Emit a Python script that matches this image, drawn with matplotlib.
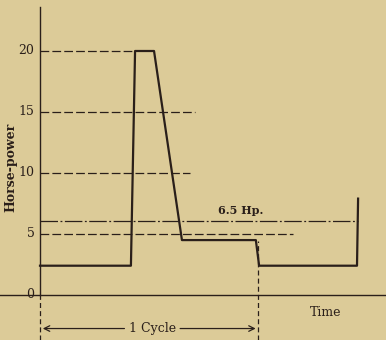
import matplotlib.pyplot as plt
import numpy as np

# load curve over one cycle (time in arbitrary units, one cycle = 10)
t = [0, 4.17, 4.36, 5.23, 6.51, 9.9, 10.05, 14.54, 14.59]
hp = [2.4, 2.4, 20, 20, 4.5, 4.5, 2.4, 2.4, 7.9]

# dashed reference levels and where each one stops
levels = [20, 15, 10, 5]
level_ends = [4.3, 7.1, 6.9, 11.6]
mean_hp = 6.1          # line marked "6.5 Hp."
cycle_end = 10.02
ticks = [0, 5, 10, 15, 20]

bg = '#dccb98'
ink = '#2a1f1a'
plt.rcParams['font.family'] = ['DejaVu Serif']

fig = plt.figure(figsize=(3.86, 3.40), dpi=100, facecolor=bg)
ax = fig.add_axes([0, 0, 1, 1])
ax.set_facecolor(bg)
ax.set_xlim(-1.835, 15.87)
ax.set_ylim(-3.69, 24.18)
ax.axis('off')

# axes drawn by hand like the original figure
ax.plot([0, 0], [0, 23.6], color=ink, lw=1.0)
ax.plot([0, 0], [-3.69, 0], color=ink, lw=0.9, dashes=(4, 2.5))
ax.axhline(0, color=ink, lw=1.0)

for lv, end in zip(levels, level_ends):
    ax.plot([0, end], [lv, lv], color=ink, lw=0.9, dashes=(7, 2.5))
ax.plot([0, 14.59], [mean_hp, mean_hp], color=ink, lw=0.9, dashes=(14, 2, 1.5, 2))

ax.plot(t, hp, color=ink, lw=1.6, solid_joinstyle='round')

ax.plot([cycle_end, cycle_end], [-3.69, 4.4], color=ink, lw=0.9, dashes=(4, 2.5))

for v in ticks:
    ax.text(-0.25, v, str(v), ha='right', va='center', fontsize=9, color=ink)

ax.text(-1.35, 10.5, 'Horse-power', rotation=90, ha='center', va='center',
        fontsize=9, fontweight='bold', color=ink)
ax.text(9.2, 6.95, '6.5 Hp.', ha='center', va='center', fontsize=8,
        fontweight='bold', color=ink)
ax.text(13.1, -1.4, 'Time', ha='center', va='center', fontsize=9, color=ink)

# cycle arrow
ax.annotate('', xy=(0, -2.75), xytext=(4.0, -2.75),
            arrowprops=dict(arrowstyle='->', color=ink, lw=0.9))
ax.annotate('', xy=(cycle_end, -2.75), xytext=(6.3, -2.75),
            arrowprops=dict(arrowstyle='->', color=ink, lw=0.9))
ax.text(5.15, -2.75, '1 Cycle', ha='center', va='center', fontsize=9, color=ink)

fig.savefig('out.png', dpi=100, facecolor=bg)
